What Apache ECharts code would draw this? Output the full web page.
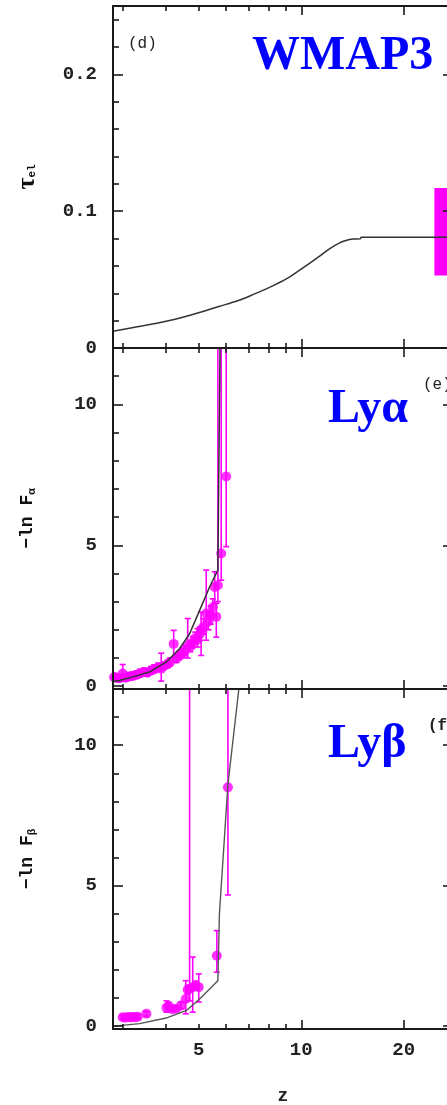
<!DOCTYPE html>
<html><head><meta charset="utf-8">
<script src="https://cdn.jsdelivr.net/npm/echarts@6/dist/echarts.min.js"></script>
<style>html,body{margin:0;padding:0;background:#fff}#c{width:447px;height:1105px}</style>
</head><body><div id="c"></div><script>
// ---------- data ----------
const zLabels = [5, 10, 20];
const zMajorTicks = [10, 20];
const zMinorTicks = [3, 4, 5, 6, 7, 8, 9];
const zRange = [2.8, 27.9];

const tauTicks = [0, 0.1, 0.2];
const tauMinorTicks = [0.02, 0.04, 0.06, 0.08, 0.12, 0.14, 0.16, 0.18, 0.22, 0.24];
const tauRange = [0, 0.25];
const lnTicks = [0, 5, 10];
const lnMinorTicks = [1, 2, 3, 4, 6, 7, 8, 9, 11];
const lnRange = [-0.1, 12];

// (d) electron scattering optical depth model
const tauZ = [2.8, 3.3, 4.01, 4.8, 5.76, 6.5, 7.21, 8.1, 9.04, 9.89, 10.6, 11.32, 12.1, 12.96, 13.6, 14.17, 14.9, 15.0, 40];
const tauV = [0.0122, 0.0155, 0.0195, 0.0245, 0.0305, 0.0345, 0.039, 0.0445, 0.0505, 0.0569, 0.062, 0.0671, 0.0725, 0.0769, 0.0788, 0.0796, 0.0798, 0.081, 0.081];
// WMAP3 constraint band
const wmapZ = [24.6, 40];
const wmapTau = [0.053, 0.117];

// (e) Ly alpha
const lyaZ  = [2.82,2.86,2.92,2.99,3.05,3.12,3.20,3.28,3.36,3.45,3.53,3.62,3.70,3.80,3.88,3.95,4.05,4.12,4.22,4.30,4.38,4.46,4.54,4.64,4.72,4.80,4.88,4.96,5.04,5.08,5.16,5.26,5.34,5.42,5.50,5.57,5.63,5.69,5.82,6.02];
const lyaV  = [0.32,0.30,0.28,0.45,0.30,0.34,0.36,0.40,0.45,0.50,0.48,0.55,0.60,0.66,0.62,0.72,0.78,0.86,1.50,0.98,1.08,1.16,1.25,1.45,1.40,1.55,1.70,1.65,1.85,1.99,2.10,2.58,2.30,2.50,2.80,3.52,2.46,3.58,4.71,7.44];
const lyaLo = [0.18,0.18,0.16,0.20,0.18,0.22,0.24,0.28,0.33,0.38,0.36,0.43,0.48,0.54,0.18,0.60,0.66,0.72,1.00,0.84,0.94,1.00,1.08,1.00,1.22,1.36,1.50,1.39,1.62,1.09,1.85,1.63,2.00,2.20,2.50,2.93,1.74,3.00,3.76,4.95];
const lyaHi = [0.46,0.44,0.42,0.77,0.44,0.48,0.50,0.54,0.60,0.64,0.62,0.70,0.76,0.82,1.17,0.86,0.92,1.00,1.98,1.14,1.24,1.34,1.44,2.40,1.60,1.76,1.92,2.04,2.10,2.63,2.40,4.12,2.65,2.85,3.10,4.06,2.94,20,20,20];
const lyaModelZ = [2.8, 2.93, 3.2, 3.58, 4.01, 4.39, 4.70, 5.03, 5.38, 5.69, 5.72, 5.78];
const lyaModelV = [0.17, 0.2, 0.33, 0.5, 0.85, 1.33, 1.86, 2.69, 3.52, 4.12, 7.0, 12.5];

// (f) Ly beta
const lybZ  = [2.99,3.04,3.10,3.15,3.20,3.26,3.31,3.51,4.02,4.08,4.18,4.29,4.44,4.58,4.64,4.70,4.80,4.90,5.00,5.65,6.09];
const lybV  = [0.32,0.30,0.33,0.31,0.33,0.32,0.34,0.44,0.66,0.72,0.60,0.62,0.74,0.97,1.30,1.33,1.39,1.45,1.39,2.51,8.50];
const lybLo = [0.24,0.22,0.25,0.23,0.25,0.24,0.26,0.36,0.50,0.60,0.52,0.54,0.62,0.44,1.15,0.90,0.50,1.30,0.86,1.92,4.67];
const lybHi = [0.40,0.38,0.41,0.39,0.41,0.40,0.42,0.52,0.90,0.84,0.68,0.70,0.86,1.62,1.45,20,2.46,1.60,1.86,3.40,20];
const lybModelZ = [2.8, 2.93, 3.35, 4.01, 4.60, 5.03, 5.69, 5.75, 6.09, 6.6];
const lybModelV = [0.0, 0.02, 0.09, 0.29, 0.56, 0.97, 1.62, 4.0, 8.6, 12.3];

// ---------- styling / layout ----------
const lg = Math.log10;
const MONO = '"Liberation Mono", "DejaVu Sans Mono", monospace';
const SERIF = '"Liberation Serif", "DejaVu Serif", serif';
const INK = '#1a1a1a';
const MAG = '#ff00ff';
const grids = [
  {left: 113, top: 6, width: 340, height: 342, outerBoundsMode: 'none', containLabel: false},
  {left: 113, top: 348, width: 340, height: 341, outerBoundsMode: 'none', containLabel: false},
  {left: 113, top: 689, width: 340, height: 340, outerBoundsMode: 'none', containLabel: false}
];

function xAxesFor(g, last) {
  const base = {gridIndex: g, type: 'value', min: lg(zRange[0]), max: lg(zRange[1]),
    splitLine: {show: false}, z: 5};
  const line = {show: true, onZero: false, lineStyle: {color: INK, width: 2}};
  const noLine = {show: false, onZero: false};
  const major = {show: true, inside: true, length: 9, customValues: zMajorTicks.map(lg), lineStyle: {color: INK, width: 1.6}};
  const minor = {show: true, inside: true, length: 5, customValues: zMinorTicks.map(lg), lineStyle: {color: INK, width: 1.6}};
  const lab = last ? {show: true, customValues: zLabels.map(lg), margin: 12,
      formatter: v => String(Math.round(Math.pow(10, v))),
      fontFamily: MONO, fontSize: 19, fontWeight: 'bold', color: '#222'} : {show: false};
  const bottomMajor = Object.assign({}, base, {position: 'bottom', axisLine: line, axisTick: major, axisLabel: lab});
  if (last) Object.assign(bottomMajor, {name: 'z', nameLocation: 'middle', nameGap: 58,
      nameTextStyle: {fontFamily: MONO, fontSize: 18, fontWeight: 'bold', color: '#222'}});
  return [
    bottomMajor,
    Object.assign({}, base, {position: 'bottom', axisLine: noLine, axisTick: minor, axisLabel: {show: false}}),
    Object.assign({}, base, {position: 'top', axisLine: line, axisTick: major, axisLabel: {show: false}}),
    Object.assign({}, base, {position: 'top', axisLine: noLine, axisTick: minor, axisLabel: {show: false}})
  ];
}
function yAxesFor(g, range, majors, minors, name, rich) {
  const base = {gridIndex: g, type: 'value', min: range[0], max: range[1], splitLine: {show: false}, z: 5};
  const line = {show: true, onZero: false, lineStyle: {color: INK, width: 2}};
  const noLine = {show: false, onZero: false};
  const major = {show: true, inside: true, length: 10, customValues: majors, lineStyle: {color: INK, width: 1.6}};
  const minor = {show: true, inside: true, length: 6, customValues: minors, lineStyle: {color: INK, width: 1.6}};
  return [
    Object.assign({}, base, {position: 'left', axisLine: line, axisTick: major,
      axisLabel: {show: true, customValues: majors, margin: 16, fontFamily: MONO, fontSize: 19, fontWeight: 'bold', color: '#222',
        formatter: v => String(+v.toFixed(2))},
      name: name, nameLocation: 'middle', nameGap: 75, nameRotate: 90,
      nameTextStyle: {rich: rich}}),
    Object.assign({}, base, {position: 'left', axisLine: noLine, axisTick: minor, axisLabel: {show: false}}),
    Object.assign({}, base, {position: 'right', axisLine: line, axisTick: major, axisLabel: {show: false}}),
    Object.assign({}, base, {position: 'right', axisLine: noLine, axisTick: minor, axisLabel: {show: false}})
  ];
}
const richName = {
  m: {fontFamily: MONO, fontSize: 18, fontWeight: 'bold', color: '#111', lineHeight: 22},
  t: {fontFamily: SERIF, fontSize: 26, fontWeight: 'bold', color: '#111', lineHeight: 22},
  s: {fontFamily: MONO, fontSize: 11, fontWeight: 'bold', color: '#111', lineHeight: 11, verticalAlign: 'bottom'}
};

function errRender(params, api) {
  const x = api.value(0), lo = api.value(1), hi = api.value(2);
  const p1 = api.coord([x, lo]), p2 = api.coord([x, hi]);
  const w = 3;
  const style = {stroke: MAG, lineWidth: 1.6};
  return {type: 'group', children: [
    {type: 'line', shape: {x1: p1[0], y1: p1[1], x2: p2[0], y2: p2[1]}, style: style},
    {type: 'line', shape: {x1: p1[0] - w, y1: p1[1], x2: p1[0] + w, y2: p1[1]}, style: style},
    {type: 'line', shape: {x1: p2[0] - w, y1: p2[1], x2: p2[0] + w, y2: p2[1]}, style: style}
  ]};
}
function rectRender(params, api) {
  const a = api.coord([api.value(0), api.value(3)]);
  const b = api.coord([api.value(1), api.value(2)]);
  return {type: 'rect', shape: {x: a[0], y: a[1], width: b[0] - a[0], height: b[1] - a[1]}, style: {fill: MAG}};
}
const pts = (zs, vs) => zs.map((z, i) => [lg(z), vs[i]]);
const errs = (zs, lo, hi) => zs.map((z, i) => [lg(z), lo[i], hi[i]]);

const xAxis = [].concat(xAxesFor(0, false), xAxesFor(1, false), xAxesFor(2, true));
const yAxis = [].concat(
  yAxesFor(0, tauRange, tauTicks, tauMinorTicks, '{t|τ}{s|el}', richName),
  yAxesFor(1, lnRange, lnTicks, lnMinorTicks, '{m|−ln F}{s|α}', richName),
  yAxesFor(2, lnRange, lnTicks, lnMinorTicks, '{m|−ln F}{s|β}', richName)
);

const modelLine = {color: '#333', width: 1.5};
const series = [
  {type: 'custom', xAxisIndex: 0, yAxisIndex: 0, clip: true, renderItem: rectRender,
   data: [[lg(wmapZ[0]), lg(wmapZ[1]), wmapTau[0], wmapTau[1]]], encode: {x: [0, 1], y: [2, 3]}, silent: true},
  {type: 'line', xAxisIndex: 0, yAxisIndex: 0, data: pts(tauZ, tauV), showSymbol: false, smooth: 0.3, lineStyle: modelLine, clip: true, silent: true},

  {type: 'custom', xAxisIndex: 4, yAxisIndex: 4, clip: true, renderItem: errRender,
   data: errs(lyaZ, lyaLo, lyaHi), encode: {x: 0, y: [1, 2]}, silent: true},
  {type: 'scatter', xAxisIndex: 4, yAxisIndex: 4, data: pts(lyaZ, lyaV), symbolSize: 10, itemStyle: {color: MAG}, clip: true, silent: true},
  {type: 'line', xAxisIndex: 4, yAxisIndex: 4, data: pts(lyaModelZ, lyaModelV), showSymbol: false, lineStyle: modelLine, clip: true, silent: true},

  {type: 'custom', xAxisIndex: 8, yAxisIndex: 8, clip: true, renderItem: errRender,
   data: errs(lybZ, lybLo, lybHi), encode: {x: 0, y: [1, 2]}, silent: true},
  {type: 'scatter', xAxisIndex: 8, yAxisIndex: 8, data: pts(lybZ, lybV), symbolSize: 10, itemStyle: {color: MAG}, clip: true, silent: true},
  {type: 'line', xAxisIndex: 8, yAxisIndex: 8, data: pts(lybModelZ, lybModelV), showSymbol: false, lineStyle: {color: '#555', width: 1.4}, clip: true, silent: true}
];

const bigFont = 'bold 48px ' + SERIF;
const smallFont = '16px ' + MONO;
const graphic = [
  {type: 'text', x: 128, y: 44, style: {text: '(d)', font: smallFont, fill: '#222', verticalAlign: 'middle'}},
  {type: 'text', x: 423, y: 385, style: {text: '(e)', font: smallFont, fill: '#222', verticalAlign: 'middle'}},
  {type: 'text', x: 428, y: 726, style: {text: '(f)', font: 'bold 16px ' + MONO, fill: '#222', verticalAlign: 'middle'}},
  {type: 'text', x: 252, y: 57, style: {text: 'WMAP3', font: bigFont, fill: '#0000ff', verticalAlign: 'middle'}},
  {type: 'text', x: 328, y: 410, style: {text: 'Lyα', font: bigFont, fill: '#0000ff', verticalAlign: 'middle'}},
  {type: 'text', x: 328, y: 745, style: {text: 'Lyβ', font: bigFont, fill: '#0000ff', verticalAlign: 'middle'}}
];

const chart = echarts.init(document.getElementById('c'), null, {renderer: 'canvas'});
chart.setOption({animation: false, backgroundColor: '#fff', grid: grids, xAxis: xAxis, yAxis: yAxis, series: series, graphic: graphic});
</script></body></html>
